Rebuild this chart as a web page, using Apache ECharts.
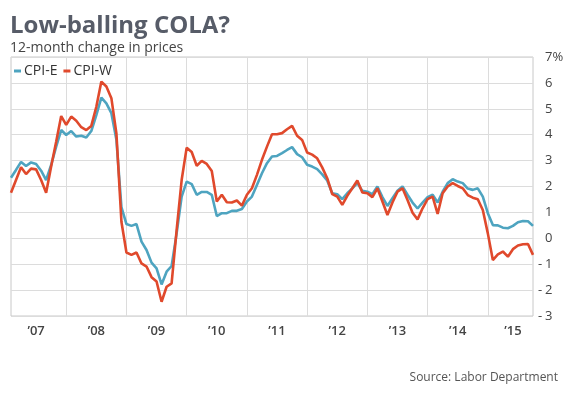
<!DOCTYPE html>
<html>
<head>
    <meta charset="utf-8">
    <title>Low-balling COLA?</title>
    <script src="https://cdn.jsdelivr.net/npm/echarts@6/dist/echarts.min.js"></script>
</head>
<body style="margin:0;background:#fff;">
    <div id="main" style="width:569px;height:398px;"></div>
    <script type="text/javascript">
        // monthly, Jan 2007 .. Sep 2015
        var months = [];
        for (var y = 2007; y <= 2015; y++) {
            for (var m = 1; m <= 12; m++) {
                if (y === 2015 && m > 9) break;
                months.push(y + '-' + (m < 10 ? '0' + m : m));
            }
        }

        var cpiE = [
            2.34, 2.64, 2.95, 2.79, 2.93, 2.87, 2.61, 2.25, 2.83, 3.54, 4.18, 3.99,
            4.14, 3.93, 3.96, 3.89, 4.14, 4.76, 5.43, 5.21, 4.83, 3.80, 1.20, 0.55,
            0.48, 0.55, -0.13, -0.45, -0.94, -1.16, -1.78, -1.29, -1.07, 0.19, 1.61, 2.19,
            2.09, 1.68, 1.79, 1.79, 1.68, 0.86, 0.97, 0.97, 1.06, 1.06, 1.13, 1.42,
            1.61, 2.06, 2.51, 2.90, 3.16, 3.18, 3.29, 3.41, 3.52, 3.25, 3.13, 2.84,
            2.77, 2.67, 2.47, 2.23, 1.74, 1.70, 1.51, 1.74, 1.93, 2.13, 1.83, 1.80,
            1.70, 2.00, 1.59, 1.25, 1.55, 1.84, 2.00, 1.68, 1.38, 1.15, 1.38, 1.59,
            1.68, 1.38, 1.80, 2.13, 2.28, 2.19, 2.13, 1.92, 1.87, 1.93, 1.61, 0.97,
            0.51, 0.50, 0.41, 0.39, 0.48, 0.62, 0.67, 0.66, 0.48
        ];

        var cpiW = [
            1.76, 2.25, 2.74, 2.48, 2.69, 2.66, 2.25, 1.76, 2.77, 3.73, 4.72, 4.38,
            4.70, 4.54, 4.29, 4.18, 4.34, 5.08, 6.05, 5.86, 5.41, 4.05, 0.64, -0.55,
            -0.64, -0.55, -0.97, -1.09, -1.50, -1.67, -2.45, -1.87, -1.74, 0.32, 2.25, 3.50,
            3.33, 2.80, 2.99, 2.87, 2.60, 1.42, 1.68, 1.39, 1.38, 1.46, 1.26, 1.68,
            1.93, 2.45, 3.03, 3.54, 4.02, 4.02, 4.06, 4.21, 4.34, 3.96, 3.80, 3.31,
            3.23, 3.09, 2.74, 2.32, 1.71, 1.61, 1.29, 1.64, 1.93, 2.23, 1.77, 1.74,
            1.59, 1.93, 1.42, 0.90, 1.38, 1.80, 1.93, 1.48, 0.99, 0.73, 1.16, 1.51,
            1.61, 0.94, 1.74, 2.00, 2.13, 2.02, 1.93, 1.67, 1.57, 1.51, 1.09, 0.19,
            -0.84, -0.62, -0.51, -0.71, -0.42, -0.28, -0.23, -0.22, -0.64
        ];

        var yearLabels = ['’07', '’08', '’09', '’10', '’11', '’12', '’13', '’14', '’15'];

        var FONT = '"Open Sans", "Noto Sans", sans-serif';

        // year labels sit mid-year, grid lines at each December
        var labelAt = {};
        yearLabels.forEach(function (t, k) {
            var idx = k === 0 ? 5 : (k === yearLabels.length - 1 ? 100 : 17 + 12 * (k - 1));
            labelAt[idx] = t;
        });

        var myChart = echarts.init(document.getElementById('main'));

        var option = {
            animation: false,
            textStyle: {fontFamily: FONT},
            title: {
                text: 'Low-balling COLA?',
                subtext: '12-month change in prices',
                left: 10,
                top: 14,
                padding: 0,
                itemGap: 3,
                textStyle: {fontFamily: FONT, fontSize: 24, fontWeight: 'bold', color: '#575c68'},
                subtextStyle: {fontFamily: FONT, fontSize: 14, color: '#444'}
            },
            legend: {
                left: 14,
                top: 64,
                padding: 0,
                itemGap: 6,
                itemWidth: 7,
                itemHeight: 3,
                icon: 'rect',
                textStyle: {fontFamily: FONT, fontSize: 14, color: '#333', padding: [0, 0, 0, -2]},
                data: ['CPI-E', 'CPI-W']
            },
            grid: {
                left: 11,
                right: 36,
                top: 57,
                bottom: 82,
                show: true,
                borderColor: '#c8c8c8',
                borderWidth: 1
            },
            xAxis: {
                type: 'category',
                data: months,
                boundaryGap: false,
                axisLine: {show: false},
                axisTick: {show: false},
                axisLabel: {
                    interval: function (i) { return labelAt[i] !== undefined; },
                    formatter: function (v, i) { return labelAt[i] || ''; },
                    margin: 9,
                    fontFamily: FONT,
                    fontSize: 13,
                    fontWeight: 600,
                    color: '#444'
                },
                splitLine: {
                    show: true,
                    interval: function (i) { return i % 12 === 11; },
                    lineStyle: {color: '#dcdcdc', width: 1}
                }
            },
            yAxis: {
                type: 'value',
                position: 'right',
                min: -3,
                max: 7,
                interval: 1,
                axisLine: {show: false},
                axisTick: {show: false},
                axisLabel: {
                    margin: 5,
                    align: 'left',
                    fontFamily: FONT,
                    fontSize: 13,
                    color: '#444',
                    formatter: function (v) {
                        var s = v === 7 ? '7%' : String(Math.abs(v));
                        return (v < 0 ? '{m|-}' : '{m|}') + s;
                    },
                    rich: {
                        m: {width: 7, fontFamily: FONT, fontSize: 13, color: '#444'}
                    }
                },
                splitLine: {lineStyle: {color: '#dcdcdc', width: 1}}
            },
            series: [
                {
                    name: 'CPI-E',
                    type: 'line',
                    data: cpiE,
                    showSymbol: false,
                    color: '#4ea4c0',
                    lineStyle: {width: 2.6, color: '#4ea4c0'}
                },
                {
                    name: 'CPI-W',
                    type: 'line',
                    data: cpiW,
                    showSymbol: false,
                    color: '#e0492c',
                    lineStyle: {width: 2.6, color: '#e0492c'}
                }
            ],
            graphic: [{
                type: 'text',
                right: 11,
                top: 372,
                style: {text: 'Source: Labor Department', font: '12px ' + FONT, fill: '#555'}
            }]
        };

        myChart.setOption(option);
    </script>
</body>
</html>
